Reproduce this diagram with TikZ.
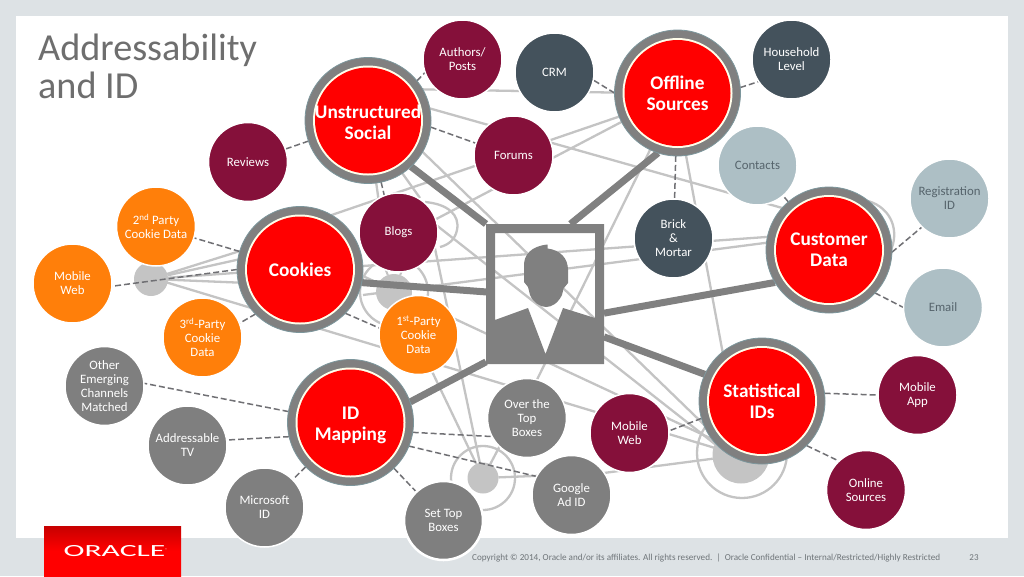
\documentclass[tikz,border=0pt]{standalone}
\usepackage{fontspec}
\usepackage{graphicx}
\setmainfont{Carlito}
\usetikzlibrary{shadings}
\definecolor{pagebg}{HTML}{DDE2E5}
\definecolor{maroonc}{HTML}{85103A}
\definecolor{slatec}{HTML}{44525C}
\definecolor{orangec}{HTML}{FF7F0A}
\definecolor{grayc}{HTML}{7F7F7F}
\definecolor{paleblue}{HTML}{ADBFC5}
\definecolor{paletext}{HTML}{56646C}
\definecolor{linec}{HTML}{C4C4C4}
\definecolor{ringc}{HTML}{808080}
\definecolor{ringedge}{HTML}{7C969C}
\definecolor{dashc}{HTML}{707074}
\definecolor{titlec}{HTML}{6E6E6E}
\definecolor{footc}{HTML}{6E7478}
\pgfdeclarelayer{thinlayer}
\pgfdeclarelayer{thicklayer}
\pgfsetlayers{thinlayer,thicklayer,main}
\tikzset{
  small/.style={circle,inner sep=0pt,outer sep=0pt,minimum size=79pt,draw=white,line width=1.5pt,
    text=white,align=center,font=\fontsize{12.8}{14}\selectfont},
  maroonn/.style={small,fill=maroonc},
  slaten/.style={small,fill=slatec},
  orangen/.style={small,fill=orangec,text=white},
  grayn/.style={small,fill=grayc},
  palen/.style={small,fill=paleblue,text=paletext},
  bign/.style={circle,inner sep=0pt,outer sep=0pt,minimum size=126pt,fill=ringc,draw=ringedge,line width=.8pt,
    text=white,align=center,font=\fontsize{19.3}{21}\selectfont\bfseries,
    path picture={\fill[white!92!yellow] (path picture bounding box.center) circle (55pt);
                  \fill[red] (path picture bounding box.center) circle (53pt);}},
  hubn/.style={circle,inner sep=0pt,outer sep=0pt,fill=linec},
  ringn/.style={circle,inner sep=0pt,outer sep=0pt,draw=linec,line width=2.3pt},
  thinline/.style={draw=linec,line width=2.3pt},
  thickline/.style={draw=ringc,line width=7pt},
  dashline/.style={draw=dashc,line width=1.5pt,dash pattern=on 6pt off 3pt},
}
\newcommand{\tl}[3]{\coordinate (#1a) at (#2);\coordinate (#1b) at (#3);\draw[thinline] (#1a)--(#1b);}
\begin{document}
\begin{tikzpicture}[x=1pt,y=-1pt]
\useasboundingbox (0,0) rectangle (1024,576);
\begin{pgfonlayer}{thinlayer}
  \fill[pagebg] (0,0) rectangle (1024,576);
  \fill[white] (16,16) rectangle (1008,538);
\end{pgfonlayer}
% title, footer, logo
\node[anchor=north west,inner sep=0pt,align=left,text=titlec,font=\fontsize{38.2}{38}\selectfont] (title) at (38,34) {Addressability\\and ID};
\shade[top color=red!78!black,bottom color=red,middle color=red] (44,526) rectangle (181,576);
\node[text=white,inner sep=0pt,font=\fontsize{17}{17}\selectfont] (oracle) at (115.5,551) {\scalebox{1.86}[1]{ORACLE}\raisebox{5pt}{\fontsize{4}{4}\selectfont ®}};
\node[anchor=west,inner sep=0pt,text=footc,font=\fontsize{9.13}{10}\selectfont] (copyright) at (472,558) {Copyright © 2014, Oracle and/or its affiliates. All rights reserved.\ \ |\ \ Oracle Confidential – Internal/Restricted/Highly Restricted};
\node[inner sep=0pt,text=footc,font=\fontsize{9}{10}\selectfont] (pagenum) at (974,558) {23};
% portrait
\node[rectangle,inner sep=0pt,outer sep=0pt,minimum width=118pt,minimum height=140pt] (portrait) at (545,294) {};
\fill[ringc,even odd rule] (486,224) rectangle (604,364)
   (495,233) -- (595,233) -- (595,318) -- (563,308) -- (545.5,354) -- (528,308) -- (495,320) -- cycle;
\fill[ringc] (547.7,244.5) -- (547.5,248.5) .. controls (560,250) and (568,258) .. (568,270) -- (568,283)
   -- (563.5,288.5) -- (562,295) .. controls (558,303) and (552,307) .. (546,307)
   .. controls (540,307) and (533,302) .. (530,295) -- (528,287) -- (524,282) -- (524,265)
   .. controls (524,255) and (531,246) .. (547.7,244.5) -- cycle;
% big nodes
\node[bign] (unstructured) at (368,120.5) {\rule{0pt}{18pt}Unstructured\\Social};
\node[bign] (offline) at (677.5,93) {Offline\\Sources};
\node[bign] (cookies) at (300,269.5) {Cookies};
\node[bign] (customer) at (829,250) {Customer\\Data};
\node[bign] (statistical) at (762,401) {Statistical\\IDs};
\node[bign] (idmapping) at (350.5,422.5) {\rule{0pt}{18pt}ID\\Mapping};
% small nodes
\node[maroonn] (authors) at (462.5,59.5) {Authors/\\Posts};
\node[slaten] (crm) at (554.5,72.5) {CRM};
\node[slaten] (household) at (791.5,59.5) {Household\\Level};
\node[maroonn] (reviews) at (248,162) {Reviews};
\node[maroonn] (forums) at (513.5,155.5) {Forums};
\node[palen] (contacts) at (757.5,165.5) {Contacts};
\node[palen] (registration) at (949.5,198.5) {Registration\\ID};
\node[orangen] (second) at (156,226.5) {2\textsuperscript{nd} Party\\Cookie Data};
\node[maroonn] (blogs) at (398.5,232.5) {Blogs};
\node[slaten] (brick) at (673.5,238.5) {Brick\\\&\\Mortar};
\node[orangen] (mobileweborange) at (72.5,283.5) {Mobile\\Web};
\node[palen] (email) at (943,307.5) {Email};
\node[orangen] (third) at (202.5,337.5) {3\textsuperscript{rd}-Party\\Cookie\\Data};
\node[orangen] (first) at (418.5,335) {1\textsuperscript{st}-Party\\Cookie\\Data};
\node[grayn] (other) at (104.5,386) {Other\\Emerging\\Channels\\Matched};
\node[grayn] (addressable) at (187.5,445.5) {Addressable\\TV};
\node[grayn] (ott) at (527,418) {Over the\\Top\\Boxes};
\node[maroonn] (mobilewebmaroon) at (629.5,433) {Mobile\\Web};
\node[maroonn] (mobileapp) at (917.5,395) {Mobile\\App};
\node[grayn] (google) at (571.5,495) {Google\\Ad ID};
\node[grayn] (microsoft) at (264.5,507.5) {Microsoft\\ID};
\node[grayn,line width=2.5pt] (settop) at (443.5,520.5) {Set Top\\Boxes};
\node[maroonn] (onlinesources) at (866,490) {Online\\Sources};
% hubs and thin lines
\begin{pgfonlayer}{thinlayer}
  \node[hubn,minimum size=34pt] (hubA) at (151,279) {};
  \node[hubn,minimum size=36pt] (hubB) at (394,292) {};
  \node[hubn,minimum width=31pt,minimum height=25pt] (hubC) at (483,478) {};
  \node[hubn,minimum width=57pt,minimum height=56pt] (hubD) at (741,455) {};
  \node[ringn,minimum size=68pt] (ringB) at (394,292) {};
  \node[ringn,minimum size=64pt] (ringC) at (483,478) {};
  \node[ringn,minimum size=90pt] (ringD) at (742,453) {};
  \draw[thinline,line width=2pt] (hubB.110) -- ++(-2,-5);
  \draw[thinline,line width=2pt] (hubB.70) -- ++(2,-5);
  \tl{cookoff}{320,219}{650,106}
  \tl{blogoff}{400,238}{650,107}
  \tl{unstoff}{400,89}{640,93}
  \tl{unstcust}{400,100}{800,213}
  \tl{unsthub}{400,130}{725,445}
  \tl{bloghub}{398,195}{725,452}
  \tl{unstblog}{400,170}{420,198}
  \tl{custA}{363,266}{780,236}
  \tl{custB}{363,295}{780,241}
  \tl{offstat}{685,150}{725,365}
  \tl{offott}{650,150}{527,400}
  \tl{cookhub}{350,270}{725,445}
  \tl{unstblogb}{373,160}{380,210}
  \tl{hubAlong}{152,278}{725,451}
  \draw[thinline] (hubA) -- (cookies.163);
  \draw[thinline] (hubA) -- (cookies.171);
  \draw[thinline] (hubA) -- (cookies.183);
  \draw[thinline] (hubA) -- (cookies.192);
  \draw[thinline] (hubB) -- (hubC);
  \coordinate (blogC) at (428,215);
  \draw[thinline] (blogC) -- (hubC);
  \draw[thinline] (ott.-134) -- (hubC);
  \draw[thinline] (google.151) -- (hubC);
  \draw[thinline] (google.34) -- (hubD);
  \coordinate (loopA) at (425,202);
  \coordinate (loopB) at (440,247);
  \draw[thinline] (loopA) .. controls (448,204) and (460,215) .. (457,230) .. controls (455,240) and (448,245) .. (loopB);
  \coordinate (loopC) at (868,201);
  \coordinate (loopD) at (890,252);
  \draw[thinline] (loopC) .. controls (892,208) and (900,232) .. (loopD);
\end{pgfonlayer}
% thick lines and dashed lines
\begin{pgfonlayer}{thicklayer}
  \draw[thickline] (unstructured.-47) -- (portrait.north west);
  \draw[thickline] (offline.-108) -- (portrait.70);
  \draw[thickline] (cookies.-12) -- (portrait.178);
  \draw[thickline] (customer.211) -- (portrait.-18);
  \draw[thickline] (statistical.155) -- (portrait.-36);
  \draw[thickline] (idmapping.19) -- (portrait.229);
  \draw[dashline] (unstructured) -- (reviews);
  \draw[dashline] (unstructured.39) -- (authors.199);
  \draw[dashline] (unstructured.-6) -- (forums.162);
  \draw[dashline] (unstructured.-78) -- (blogs.111);
  \draw[dashline] (offline.180) -- (crm.-11);
  \draw[dashline] (offline.5) -- (household.214);
  \draw[dashline] (offline) -- (brick);
  \draw[dashline] (customer) -- (contacts);
  \draw[dashline] (customer.-2) -- (registration.226);
  \draw[dashline] (customer.-43) -- (email.180);
  \draw[dashline] (statistical.7) -- (mobileapp.180);
  \draw[dashline] (statistical.-45) -- (onlinesources.133);
  \draw[dashline] (statistical.196) -- (mobilewebmaroon.3);
  \draw[dashline] (cookies) -- (second);
  \draw[dashline] (cookies.225) -- (third.21);
  \draw[dashline] (cookies.-44) -- (first.170);
  \draw[dashline] (cookies.180) -- (mobileweborange.-4);
  \draw[dashline] (idmapping.170) -- (other.4);
  \draw[dashline] (idmapping.193) -- (addressable.8);
  \draw[dashline] (idmapping) -- (microsoft);
  \draw[dashline] (idmapping) -- (settop);
  \draw[dashline] (idmapping.-9) -- (ott.208);
  \draw[dashline] (idmapping.-22) -- (google.152);
\end{pgfonlayer}
\end{tikzpicture}
\end{document}
